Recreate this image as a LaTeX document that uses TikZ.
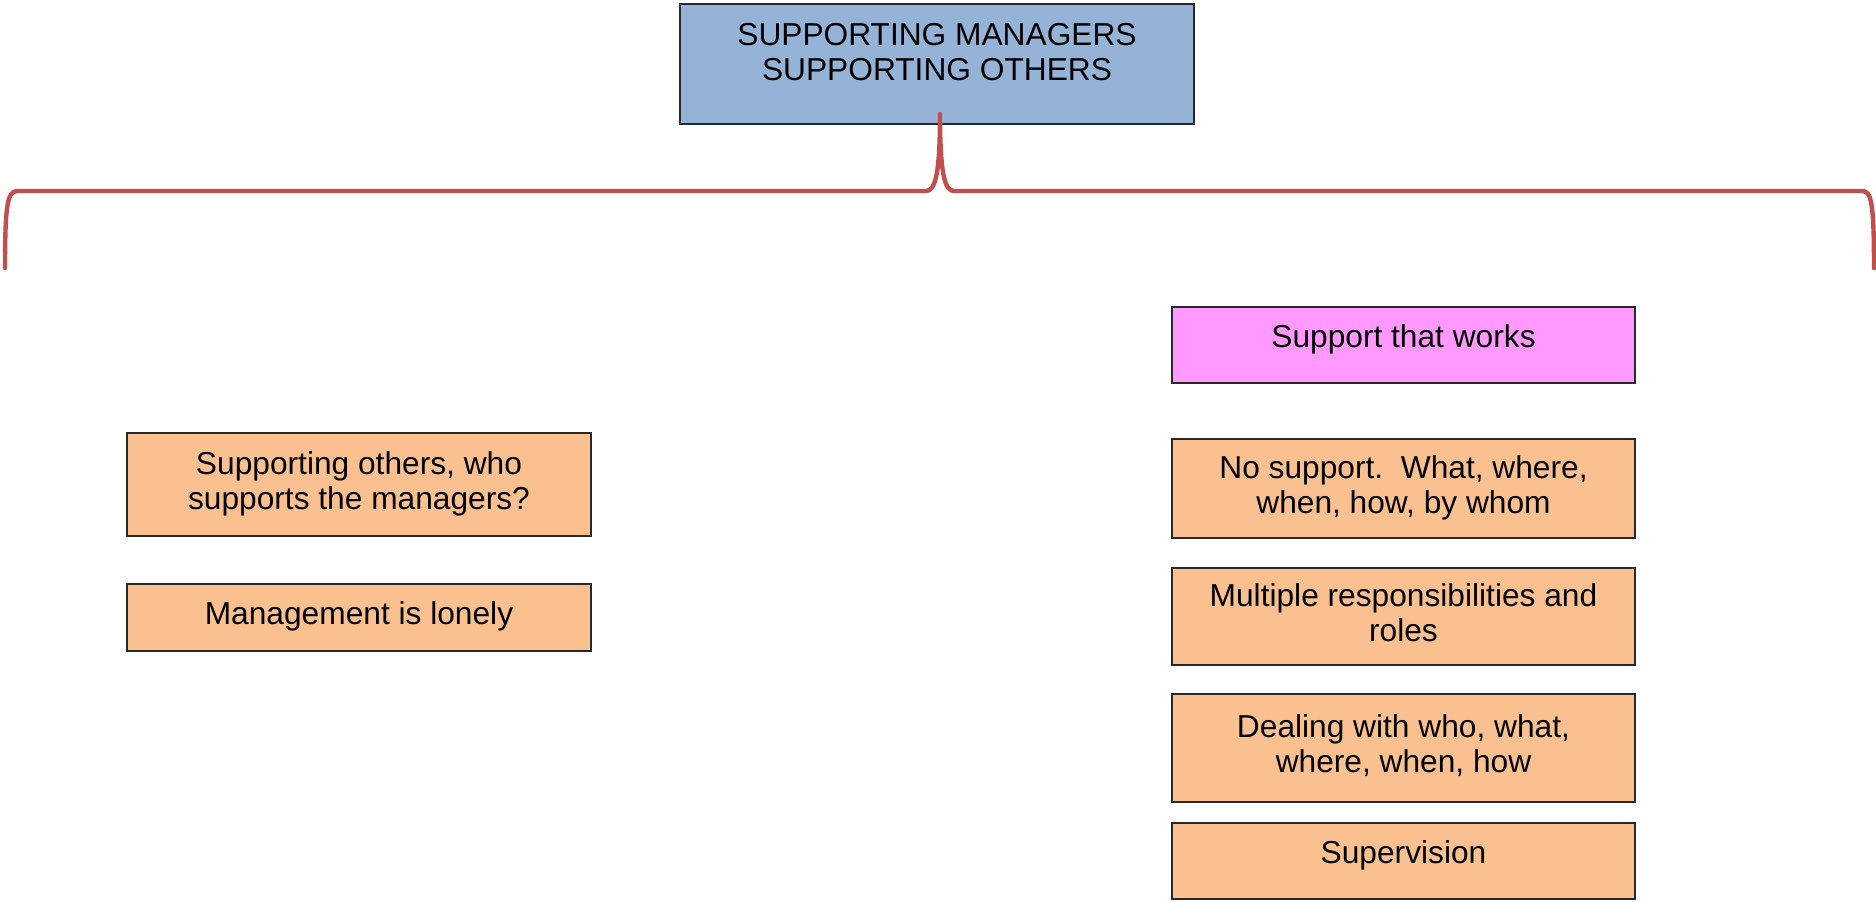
\documentclass[tikz,border=0pt]{standalone}
\usepackage{fontspec}
\setmainfont{Liberation Sans}
\definecolor{titleblue}{RGB}{149,179,215}
\definecolor{pinkfill}{RGB}{255,153,255}
\definecolor{orangefill}{RGB}{250,192,144}
\definecolor{bracered}{RGB}{192,80,77}
\definecolor{edgegray}{RGB}{40,40,40}
\begin{document}
\begin{tikzpicture}[x=0.5pt,y=-0.5pt,
  boxtext/.style={font=\fontsize{15.85pt}{17.5pt}\selectfont, align=center},
  box/.style={boxtext, draw=edgegray, line width=0.6pt, rectangle, inner sep=0pt},
  orangebox/.style={box, fill=orangefill, minimum width=231.5pt},
  raisedline/.style={text height=9.75pt, text depth=7.75pt},
  bracestyle/.style={draw=bracered, line width=2.2pt, line cap=round, line join=round}
]
\useasboundingbox (0,0) rectangle (1876,901);

% title box, text sits in its upper part
\node[box, fill=titleblue, minimum width=257pt, minimum height=60pt] (title) at (937,64) {};
\node[boxtext] (titletext) at (937,56) {\strut SUPPORTING MANAGERS\\SUPPORTING OTHERS\strut};

% brace under the title
\draw[bracestyle]
  (5,268) .. controls (5,200) and (8,191) .. (18,191)
  -- (926,191) .. controls (935,191) and (940,175) .. (940,114)
  .. controls (940,175) and (945,191) .. (954,191)
  -- (1862,191) .. controls (1871,191) and (1874,200) .. (1874,268);

% left column
\node[orangebox, minimum width=232pt, minimum height=51.5pt] (others) at (359,484.5)
  {\strut Supporting others, who\\supports the managers?\strut};
\node[orangebox, minimum width=232pt, minimum height=33.5pt] (lonely) at (359,617.5)
  {\strut Management is lonely\strut};

% right column
\node[box, raisedline, fill=pinkfill, minimum width=231.5pt, minimum height=38pt] (works) at (1403.5,345)
  {Support that works};
\node[orangebox, minimum height=49.5pt] (nosupport) at (1403.5,488.5)
  {\strut No support.\ \ What, where,\\when, how, by whom\strut};
\node[orangebox, minimum height=48.5pt] (multiple) at (1403.5,616.5)
  {\strut Multiple responsibilities and\\roles\strut};
\node[orangebox, minimum height=54pt] (dealing) at (1403.5,748)
  {\strut Dealing with who, what,\\where, when, how\strut};
\node[orangebox, raisedline, minimum height=38pt] (supervision) at (1403.5,861)
  {Supervision};
\end{tikzpicture}
\end{document}
